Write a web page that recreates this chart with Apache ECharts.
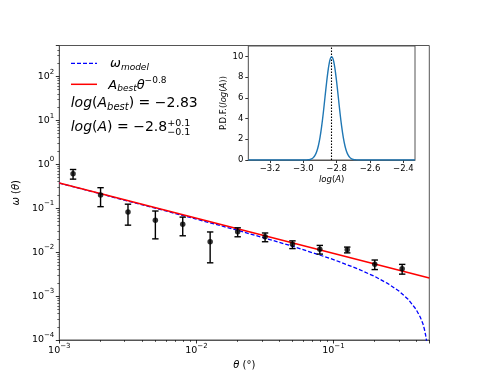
<!DOCTYPE html>
<html><head><meta charset="utf-8">
<script src="https://cdn.jsdelivr.net/npm/echarts@6/dist/echarts.min.js"></script>
<style>html,body{margin:0;padding:0;background:#fff}#c{width:477px;height:382px}</style>
</head><body><div id="c"></div>
<script>
// ---- data ----
const thetaObs = [0.00126, 0.0020, 0.00317, 0.00502, 0.00795, 0.0126, 0.0200, 0.0317, 0.0502, 0.0795, 0.126, 0.200, 0.317];
const omegaObs = [0.607, 0.200, 0.082, 0.053, 0.043, 0.0172, 0.029, 0.0222, 0.0150, 0.0116, 0.0113, 0.0053, 0.0042];
const omegaErr = [0.150, 0.092, 0.041, 0.033, 0.0195, 0.0115, 0.0067, 0.0050, 0.0030, 0.0026, 0.0017, 0.0013, 0.00105];

const thetaModel = [0.001, 0.002, 0.005, 0.01, 0.02, 0.05, 0.1, 0.15, 0.2, 0.25, 0.3, 0.35, 0.4, 0.43, 0.45, 0.46, 0.47, 0.48, 0.485, 0.49];
const omegaModel = [0.369, 0.211, 0.0999, 0.0563, 0.0313, 0.0137, 0.00676, 0.00417, 0.00279, 0.00191, 0.00130, 0.00085, 0.00050, 0.00033, 0.00023, 0.000178, 0.00013, 0.000086, 0.000064, 0.000042];

const thetaFit = [0.001, 0.5];
const omegaFit = [0.3715, 0.002575];

const logAbest = -2.83;
const pdfX = [-3.33, -3.00, -2.99, -2.98, -2.97, -2.96, -2.95, -2.94, -2.93, -2.92, -2.91, -2.90, -2.89, -2.88, -2.87, -2.86, -2.85, -2.84, -2.83, -2.82, -2.81, -2.80, -2.79, -2.78, -2.77, -2.76, -2.75, -2.74, -2.73, -2.72, -2.71, -2.70, -2.69, -2.68, -2.67, -2.66, -2.33];
const pdfY = [0, 0.001, 0.003, 0.009, 0.022, 0.05, 0.11, 0.23, 0.44, 0.79, 1.35, 2.16, 3.24, 4.56, 6.05, 7.53, 8.80, 9.66, 9.97, 9.66, 8.80, 7.53, 6.05, 4.56, 3.24, 2.16, 1.35, 0.79, 0.44, 0.23, 0.11, 0.05, 0.022, 0.009, 0.003, 0.001, 0];

const xMajorTicks = [0.001, 0.01, 0.1];
const yMajorTicks = [1e-4, 1e-3, 1e-2, 1e-1, 1, 10, 100];
const insetXTicks = [-3.2, -3.0, -2.8, -2.6, -2.4];
const insetYTicks = [0, 2, 4, 6, 8, 10];

// minor tick positions on log axes (2..9 x 10^k)
const xMinorTicks = [], yMinorTicks = [];
for (let k = -3; k <= -1; k++) for (let m = 2; m <= 9; m++) { const v = m * Math.pow(10, k); if (v < 0.5) xMinorTicks.push(v); }
for (let k = -4; k <= 2; k++) for (let m = 2; m <= 9; m++) { const v = m * Math.pow(10, k); if (v < 500) yMinorTicks.push(v); }

const FONT = '"DejaVu Sans", sans-serif';
const SPINE = '#555';
const chart = echarts.init(document.getElementById('c'), null, {renderer: 'canvas'});

const ctx = document.createElement('canvas').getContext('2d');
function mathText(x0, baseline, segs, defSize) {
  const els = [];
  let x = x0, lastStart = x0;
  segs.forEach(sg => {
    const size = sg.s || defSize;
    const font = (sg.i ? 'italic ' : '') + size + 'px ' + FONT;
    ctx.font = font;
    const w = ctx.measureText(sg.t).width;
    const sx = sg.stack ? lastStart : x;
    if (!sg.stack) lastStart = sx;
    els.push({type: 'text', z: 100, silent: true,
      style: {text: sg.t, x: sx, y: baseline + (sg.dy || 0) - 0.3 * size, font: font, fill: '#000', align: 'left', verticalAlign: 'middle'}});
    x = Math.max(x, sx + w);
  });
  return els;
}

function powLabel(v) {
  const l = Math.log10(v);
  const r = Math.round(l);
  if (Math.abs(l - r) > 1e-6) return '';
  return '{b|10}{s|' + (r < 0 ? '\u2212' + (-r) : r) + '}';
}
const powRich = {
  b: {fontSize: 9.5, fontFamily: FONT, color: '#000'},
  s: {fontSize: 7, fontFamily: FONT, color: '#000', padding: [0, 0, 9, 0]}
};

const graphics = [].concat(
  [{type: 'line', z: 100, shape: {x1: 71, y1: 63.3, x2: 97, y2: 63.3}, style: {stroke: '#0000ff', lineWidth: 1.3, lineDash: [4, 2]}},
   {type: 'line', z: 100, shape: {x1: 71, y1: 84.3, x2: 97, y2: 84.3}, style: {stroke: '#ff0000', lineWidth: 1.5}}],
  mathText(110, 67.8, [{t: '\u03c9', i: true}, {t: 'model', i: true, s: 9, dy: 2.5}], 13),
  mathText(108.3, 89.2, [{t: 'A', i: true}, {t: 'best', i: true, s: 9, dy: 2.5}, {t: '\u03b8', i: true}, {t: '\u22120.8', s: 9, dy: -5.5}], 13),
  mathText(70.7, 107.3, [{t: 'log', i: true}, {t: '('}, {t: 'A', i: true}, {t: 'best', i: true, s: 10, dy: 3}, {t: ')'}, {t: ' = \u22122.83'}], 14),
  mathText(70.7, 131.3, [{t: 'log', i: true}, {t: '('}, {t: 'A', i: true}, {t: ')'}, {t: ' = \u22122.8'}, {t: '+0.1', s: 9.5, dy: -5}, {t: '\u22120.1', s: 9.5, dy: 4.5, stack: true}], 14)
);

const option = {
  animation: false,
  backgroundColor: '#fff',
  grid: [
    {left: 59.3, top: 45.5, right: 47.7, bottom: 42, show: true, borderColor: SPINE, borderWidth: 1, backgroundColor: 'transparent'},
    {left: 248.3, top: 46, width: 166.7, height: 114, show: true, borderColor: SPINE, borderWidth: 1, backgroundColor: '#fff', z: 3}
  ],
  xAxis: [
    {type: 'log', gridIndex: 0, min: 0.001, max: 0.5, logBase: 10,
     name: '{i|\u03b8} (\u00b0)', nameLocation: 'middle', nameGap: 16,
     nameTextStyle: {fontSize: 10, fontFamily: FONT, color: '#000', rich: {i: {fontStyle: 'italic', fontSize: 10, fontFamily: FONT, color: '#000'}}},
     axisLine: {show: true, lineStyle: {color: SPINE, width: 1}},
     axisTick: {show: true, length: 3.5, lineStyle: {color: '#000', width: 0.8}},
     axisLabel: {formatter: powLabel, rich: powRich, margin: 3, hideOverlap: false, showMinLabel: true, showMaxLabel: true},
     splitLine: {show: false}},
    {type: 'log', gridIndex: 0, min: 0.001, max: 0.5, logBase: 10, position: 'bottom',
     axisLine: {show: false}, axisLabel: {show: false}, splitLine: {show: false},
     axisTick: {show: true, length: 2, customValues: xMinorTicks, lineStyle: {color: '#000', width: 0.6}}},
    {type: 'value', gridIndex: 1, min: -3.33, max: -2.33,
     name: '{i|log}({i|A})', nameLocation: 'middle', nameGap: 15,
     nameTextStyle: {fontSize: 8.5, fontFamily: FONT, color: '#000', rich: {i: {fontStyle: 'italic', fontSize: 8.5, fontFamily: FONT, color: '#000'}}},
     axisLine: {show: true, onZero: false, lineStyle: {color: SPINE, width: 1}},
     axisTick: {show: true, length: 3, customValues: insetXTicks, lineStyle: {color: '#000', width: 0.8}},
     axisLabel: {customValues: insetXTicks, fontSize: 8.5, fontFamily: FONT, color: '#000', margin: 4,
                 formatter: v => (v < 0 ? '\u2212' : '') + Math.abs(v).toFixed(1)},
     splitLine: {show: false}}
  ],
  yAxis: [
    {type: 'log', gridIndex: 0, min: 1e-4, max: 501.2, logBase: 10,
     name: '{i|\u03c9} ({i|\u03b8})', nameLocation: 'middle', nameGap: 31,
     nameTextStyle: {fontSize: 10, fontFamily: FONT, color: '#000', rich: {i: {fontStyle: 'italic', fontSize: 10, fontFamily: FONT, color: '#000'}}},
     axisLine: {show: true, lineStyle: {color: SPINE, width: 1}},
     axisTick: {show: true, length: 3.5, lineStyle: {color: '#000', width: 0.8}},
     axisLabel: {formatter: powLabel, rich: powRich, margin: 5, hideOverlap: false, showMinLabel: true, showMaxLabel: true},
     splitLine: {show: false}},
    {type: 'log', gridIndex: 0, min: 1e-4, max: 501.2, logBase: 10, position: 'left',
     axisLine: {show: false}, axisLabel: {show: false}, splitLine: {show: false},
     axisTick: {show: true, length: 2, customValues: yMinorTicks, lineStyle: {color: '#000', width: 0.6}}},
    {type: 'value', gridIndex: 1, min: 0, max: 11,
     name: 'P.D.F.({i|log}({i|A}))', nameLocation: 'middle', nameGap: 19,
     nameTextStyle: {fontSize: 8.5, fontFamily: FONT, color: '#000', rich: {i: {fontStyle: 'italic', fontSize: 8.5, fontFamily: FONT, color: '#000'}}},
     axisLine: {show: true, onZero: false, lineStyle: {color: SPINE, width: 1}},
     axisTick: {show: true, length: 3, customValues: insetYTicks, lineStyle: {color: '#000', width: 0.8}},
     axisLabel: {customValues: insetYTicks, fontSize: 8.5, fontFamily: FONT, color: '#000', margin: 5},
     splitLine: {show: false}}
  ],
  series: [
    {type: 'line', name: 'model', xAxisIndex: 0, yAxisIndex: 0, data: thetaModel.map((t, i) => [t, omegaModel[i]]),
     showSymbol: false, smooth: false, clip: true, lineStyle: {color: '#0000ff', width: 1.3, type: [4, 2]}, z: 2},
    {type: 'line', name: 'fit', xAxisIndex: 0, yAxisIndex: 0, data: thetaFit.map((t, i) => [t, omegaFit[i]]),
     showSymbol: false, clip: true, lineStyle: {color: '#ff0000', width: 1.5}, z: 3},
    {type: 'custom', name: 'err', xAxisIndex: 0, yAxisIndex: 0, z: 4,
     data: thetaObs.map((t, i) => [t, omegaObs[i], omegaErr[i]]),
     renderItem: function (params, api) {
       const x = api.value(0), y = api.value(1), e = api.value(2);
       const pt = api.coord([x, y + e]);
       const pb = api.coord([x, y - e]);
       const st = {stroke: '#000', lineWidth: 1.4};
       return {type: 'group', children: [
         {type: 'line', shape: {x1: pt[0], y1: pt[1], x2: pb[0], y2: pb[1]}, style: st},
         {type: 'line', shape: {x1: pt[0] - 3.2, y1: pt[1], x2: pt[0] + 3.2, y2: pt[1]}, style: st},
         {type: 'line', shape: {x1: pb[0] - 3.2, y1: pb[1], x2: pb[0] + 3.2, y2: pb[1]}, style: st}
       ]};
     }},
    {type: 'scatter', name: 'obs', xAxisIndex: 0, yAxisIndex: 0, z: 5,
     data: thetaObs.map((t, i) => [t, omegaObs[i]]), symbol: 'circle', symbolSize: 5.5, itemStyle: {color: '#000'}},
    {type: 'line', name: 'pdf', xAxisIndex: 2, yAxisIndex: 2, z: 6,
     data: pdfX.map((v, i) => [v, pdfY[i]]), showSymbol: false, smooth: 0.3,
     lineStyle: {color: '#1f77b4', width: 1.4},
     markLine: {silent: true, symbol: ['none', 'none'], label: {show: false}, animation: false,
                lineStyle: {color: '#000', type: [1.5, 1.5], width: 1.1},
                data: [{xAxis: logAbest}]}}
  ],
  graphic: graphics
};
chart.setOption(option);
</script>
</body></html>
